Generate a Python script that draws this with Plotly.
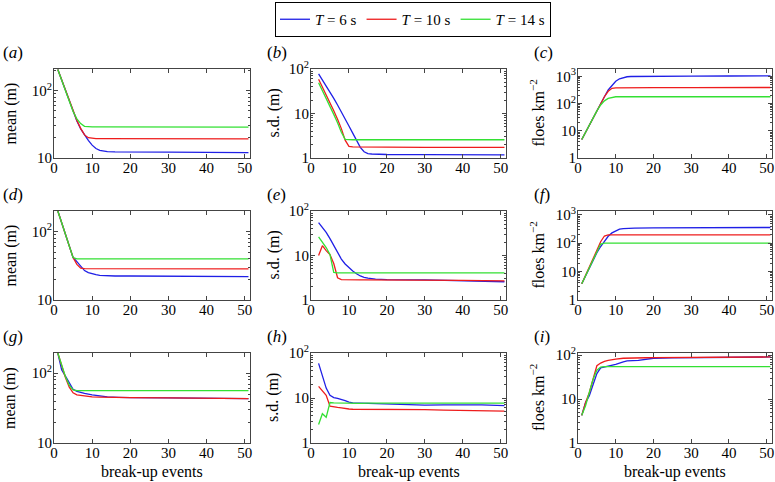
import plotly.graph_objects as go
from plotly.subplots import make_subplots

# ---- data ----
x_a = [1, 2, 3, 4, 5, 6, 7, 8, 9, 10, 11, 12, 13, 14, 16, 20, 30, 40, 51]
a_blue = [205, 145, 100, 71, 49, 35.5, 27, 22, 18.2, 15.5, 13.8, 13, 12.6, 12.4, 12.3, 12.2, 12.2, 12.1, 12.0]
a_red = [205, 145, 100, 71, 49, 36, 27.5, 22, 20, 19.5, 19.4, 19.4, 19.4, 19.4, 19.4, 19.3, 19.3, 19.2, 19.2]
a_green = [205, 145, 100, 71, 49, 38, 32.4, 29.5, 29, 29, 29, 29, 29, 29, 29, 29, 28.9, 28.9, 28.8]

x_b = [2, 3, 4, 5, 6, 7, 8, 9, 10, 11, 12, 13, 14, 15, 16, 20, 30, 40, 51]
b_blue = [77.6, 57.5, 41.7, 30.2, 21.9, 15.5, 11.0, 7.59, 5.25, 3.63, 2.51, 1.74, 1.38, 1.26, 1.23, 1.20, 1.19, 1.17, 1.17]
b_red = [58.9, 39.8, 26.9, 17.8, 11.5, 7.41, 4.57, 2.51, 1.82, 1.78, 1.77, 1.76, 1.76, 1.75, 1.75, 1.75, 1.74, 1.74, 1.74]
b_green = [49.0, 33.1, 22.4, 14.8, 9.55, 6.17, 3.80, 2.63, 2.57, 2.57, 2.57, 2.57, 2.57, 2.57, 2.57, 2.57, 2.57, 2.57, 2.57]

x_c = [1, 2, 3, 4, 5, 6, 7, 8, 9, 10, 11, 12, 13, 14, 16, 20, 30, 40, 51]
c_blue = [4.8, 8.9, 16.6, 30.9, 53.7, 98, 178, 316, 479, 661, 813, 912, 966, 989, 1000, 1005, 1015, 1030, 1047]
c_red = [4.8, 8.9, 16.6, 30.9, 53.7, 98, 178, 282, 363, 380, 382, 383, 383, 384, 384, 385, 386, 388, 389]
c_green = [4.8, 8.9, 16.6, 30.9, 53.7, 89, 126, 155, 170, 178, 178, 178, 178, 178, 178, 178, 178, 178, 178]

x_d = [1, 2, 3, 4, 5, 6, 7, 8, 9, 10, 11, 12, 14, 16, 20, 30, 40, 51]
d_blue = [200, 135, 91, 61.7, 41.7, 36.3, 30.9, 26.9, 25.1, 24.0, 23.4, 22.9, 22.4, 22.4, 22.4, 22.2, 22.0, 21.9]
d_red = [200, 135, 91, 61.7, 41.7, 33.1, 29.2, 28.8, 28.8, 28.8, 28.8, 28.8, 28.8, 28.8, 28.7, 28.6, 28.6, 28.5]
d_green = [200, 135, 91, 61.7, 41.7, 39.8, 39.8, 39.8, 39.8, 39.8, 39.8, 39.8, 39.8, 39.8, 39.8, 39.8, 39.8, 39.8]

x_e = [2, 3, 4, 5, 6, 7, 8, 9, 10, 11, 12, 13, 14, 15, 17, 20, 30, 40, 51]
e_blue = [55, 43.7, 33.1, 24, 17, 11.5, 8.32, 6.46, 5.25, 4.47, 3.89, 3.47, 3.24, 3.09, 2.95, 2.88, 2.82, 2.69, 2.57]
e_red = [10, 16.6, 12.9, 10.5, 6.6, 3.16, 2.88, 2.85, 2.85, 2.85, 2.84, 2.84, 2.83, 2.83, 2.82, 2.82, 2.79, 2.75, 2.69]
e_green = [26.3, 20.4, 15.1, 10.5, 4.17, 4.07, 4.07, 4.07, 4.07, 4.07, 4.07, 4.07, 4.07, 4.07, 4.07, 4.07, 4.07, 4.07, 4.07]

x_f = [1, 2, 3, 4, 5, 6, 7, 8, 9, 10, 11, 12, 13, 15, 20, 30, 40, 51]
f_blue = [3.7, 7.1, 13.5, 25.7, 46, 76, 117, 174, 229, 275, 309, 324, 331, 339, 342, 347, 350, 355]
f_red = [3.7, 7.1, 13.5, 25.7, 56, 112, 178, 195, 195, 195, 195, 195, 195, 195, 195, 195, 195, 195]
f_green = [3.7, 7.1, 13.5, 25.7, 49, 93, 100, 100, 100, 100, 100, 100, 100, 100, 100, 100, 100, 100]

x_g = [1, 2, 3, 4, 5, 6, 7, 8, 10, 12, 14, 17, 20, 30, 40, 51]
g_blue = [195, 112, 91, 72.4, 58.9, 55, 52.5, 51.3, 49, 46.8, 45.7, 45.2, 44.7, 44.2, 43.7, 43.2]
g_red = [195, 126, 87, 63.1, 52.5, 49, 47.9, 46.8, 45.7, 45.5, 45.2, 45.0, 44.7, 44.2, 43.7, 43.2]
g_green = [195, 132, 89, 67.6, 57.5, 56.2, 56.2, 56.2, 56.2, 56.2, 56.2, 56.2, 56.2, 56.2, 56.2, 56.2]

x_h = [2, 3, 4, 5, 6, 7, 8, 9, 10, 11, 13, 15, 17, 20, 25, 30, 35, 40, 45, 51]
h_blue = [58.9, 31.6, 16.6, 11.5, 10.2, 9.77, 9.33, 8.71, 8.13, 7.76, 7.67, 7.59, 7.59, 7.24, 7.08, 6.92, 7.0, 7.08, 7.0, 6.76]
h_red = [18.2, 14.8, 11.5, 6.61, 6.31, 6.17, 6.03, 5.8, 5.7, 5.62, 5.62, 5.6, 5.6, 5.62, 5.5, 5.5, 5.4, 5.37, 5.3, 5.13]
h_green = [2.57, 4.47, 3.72, 7.94, 7.76, 7.7, 7.67, 7.6, 7.6, 7.6, 7.6, 7.67, 7.67, 7.67, 7.67, 7.67, 7.67, 7.67, 7.67, 7.67]

x_i = [1, 2, 3, 4, 5, 6, 7, 8, 9, 10, 12, 13, 16, 18, 20, 25, 30, 40, 51]
i_blue = [4.27, 8.32, 12.0, 22.4, 38.0, 51.3, 53.7, 56.2, 58.9, 61.7, 70.8, 74.1, 75.9, 79.4, 85.1, 87.1, 88.1, 89.1, 91.2]
i_red = [4.27, 8.32, 14.1, 28.2, 57.5, 66.1, 72.4, 75.9, 79.4, 81.3, 85.1, 86, 87.1, 87.5, 88.1, 88.5, 89.1, 90.2, 91.2]
i_green = [4.27, 7.08, 14.1, 28.2, 45.7, 53.7, 55, 55, 55, 55, 55, 55, 55, 55, 55, 55, 55, 55, 55]

series_names = ["<i>T</i> = 6 s", "<i>T</i> = 10 s", "<i>T</i> = 14 s"]
colors = ["#1f1fe6", "#ee1c1c", "#33e033"]

panels = [
    ("a", x_a, [a_blue, a_red, a_green], "mean (m)", [1, 2.32]),
    ("b", x_b, [b_blue, b_red, b_green], "s.d. (m)", [0, 2]),
    ("c", x_c, [c_blue, c_red, c_green], "floes km<sup>\u22122</sup>", [0, 3.27]),
    ("d", x_d, [d_blue, d_red, d_green], "mean (m)", [1, 2.30]),
    ("e", x_e, [e_blue, e_red, e_green], "s.d. (m)", [0, 2]),
    ("f", x_f, [f_blue, f_red, f_green], "floes km<sup>\u22122</sup>", [0, 3.13]),
    ("g", x_g, [g_blue, g_red, g_green], "mean (m)", [1, 2.29]),
    ("h", x_h, [h_blue, h_red, h_green], "s.d. (m)", [0, 2]),
    ("i", x_i, [i_blue, i_red, i_green], "floes km<sup>\u22122</sup>", [0, 2.05]),
]

W, H = 775, 482
col_px = [(54, 250), (311, 506), (578, 772)]
row_px = [(69, 158), (211, 300), (353, 443)]
title_x = [10, 273, 537]


def px_x(v):
    return v / W


def px_y(v):
    return 1 - v / H


SERIF = "Liberation Serif, DejaVu Serif, Noto Serif, Times New Roman, serif"
fig = make_subplots(rows=3, cols=3)

for k, (letter, xs, ys, ylabel, yrange) in enumerate(panels):
    r, c = divmod(k, 3)
    for s, y in enumerate(ys):
        fig.add_trace(
            go.Scatter(x=xs, y=y, mode="lines", name=series_names[s],
                       line=dict(color=colors[s], width=1.3),
                       showlegend=(k == 0), legendgroup=str(s)),
            row=r + 1, col=c + 1,
        )
    x0, x1 = col_px[c]
    y0, y1 = row_px[r]
    ax = dict(showline=True, linecolor="#444", linewidth=1, mirror="ticks",
              ticks="inside", ticklen=4, tickcolor="#444", showgrid=False,
              zeroline=False, automargin=False,
              tickfont=dict(family=SERIF, size=15, color="black"))
    fig.update_xaxes(ax, domain=[px_x(x0), px_x(x1)], range=[0, 51.4],
                     tickvals=[0, 10, 20, 30, 40, 50], ticklabelstandoff=-4,
                     row=r + 1, col=c + 1)
    tv = [1, 10, 100, 1000]
    tt = ["1", "10", "10<sup>2</sup>", "10<sup>3</sup>"]
    fig.update_yaxes(ax, type="log", domain=[px_y(y1), px_y(y0)], range=yrange,
                     tickvals=tv, ticktext=tt, ticklabelstandoff=-2,
                     minor=dict(ticks="inside", ticklen=2, tickcolor="#444", dtick="D1"),
                     row=r + 1, col=c + 1)
    fig.add_annotation(text=f"(<i>{letter}</i>)", x=px_x(x0 - (53 if c == 0 else 46)),
                       y=px_y(y0 - 17), xref="paper", yref="paper",
                       xanchor="left", yanchor="middle", showarrow=False,
                       font=dict(family=SERIF, size=17, color="black"))
    fig.add_annotation(text=ylabel, x=px_x(title_x[c]), y=px_y((y0 + y1) / 2),
                       xref="paper", yref="paper", textangle=-90, showarrow=False,
                       xanchor="center", yanchor="middle",
                       font=dict(family=SERIF, size=16, color="black"))
    if r == 2:
        fig.add_annotation(text="break-up events", x=px_x((x0 + x1) / 2), y=px_y(472),
                           xref="paper", yref="paper", showarrow=False,
                           xanchor="center", yanchor="middle",
                           font=dict(family=SERIF, size=16, color="black"))

fig.update_layout(
    width=W, height=H,
    margin=dict(l=0, r=0, t=0, b=0, autoexpand=False),
    paper_bgcolor="white", plot_bgcolor="white",
    font=dict(family=SERIF, size=15, color="black"),
    legend=dict(orientation="h", x=px_x(413), y=px_y(2), xanchor="center", yanchor="top",
                bordercolor="black", borderwidth=1, bgcolor="white",
                itemwidth=30, font=dict(family=SERIF, size=15)),
)

# drop the browser's default page margin so the figure sits at the window origin
fig.write_html("out.html", config={"displayModeBar": False},
               post_script="document.body.style.margin = '0';")
